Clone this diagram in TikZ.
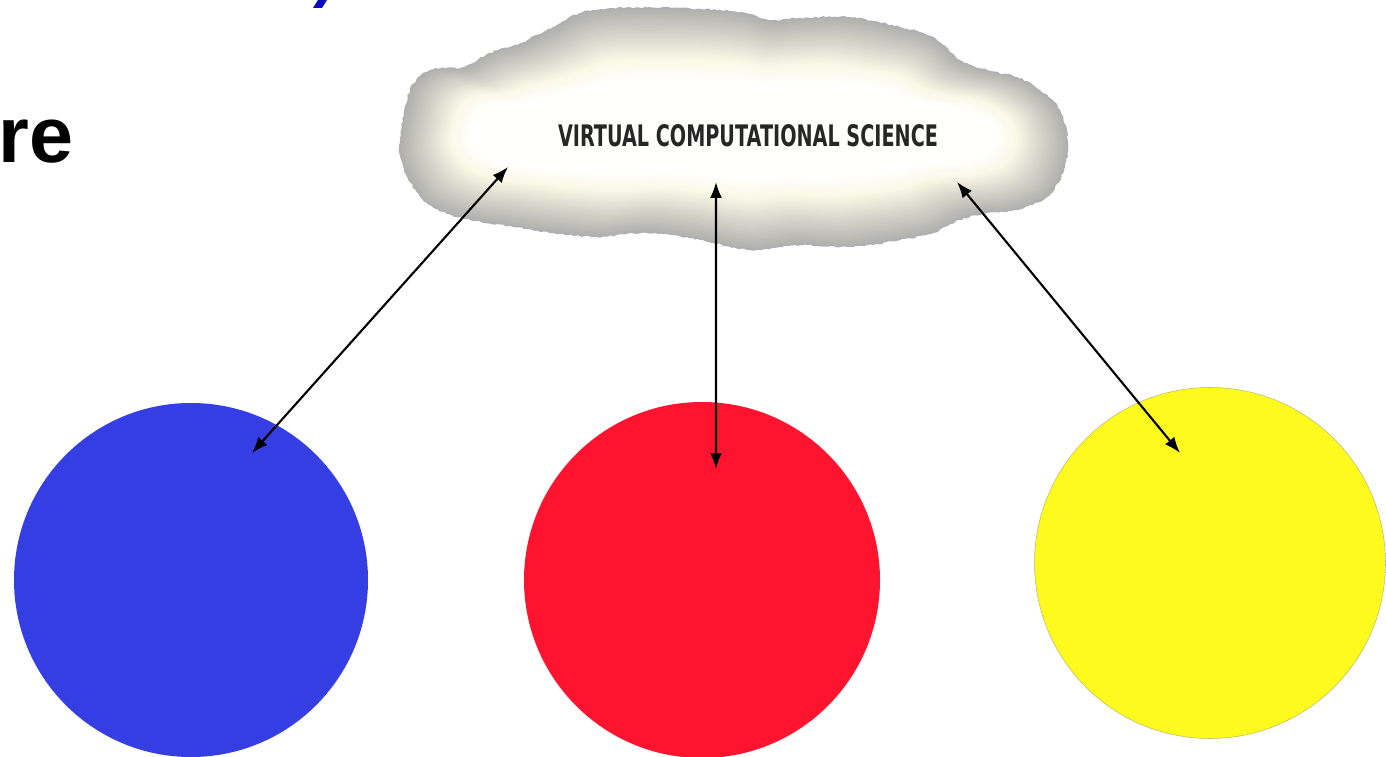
\documentclass[tikz,border=0pt]{standalone}
\usepackage{fontspec}
\setmainfont{Liberation Sans}
\newfontfamily\vcsfont{DejaVu Sans}
\usepackage{graphicx}
\usepackage{tikz}
\usetikzlibrary{arrows.meta, calc, decorations.pathmorphing}
\definecolor{discblue}{RGB}{52,62,226}
\definecolor{discred}{RGB}{255,20,48}
\definecolor{discyellow}{RGB}{255,250,30}
\definecolor{cloudgray}{RGB}{176,176,174}
\definecolor{cloudcream}{RGB}{250,248,230}
\definecolor{titleblue}{RGB}{10,10,190}
% outline of the cloud, centred on the origin
\newcommand{\cloudshape}{plot[smooth cycle, tension=0.55] coordinates {
  (-6.66,-0.22) (-6.46,0.78) (-6.06,1.18) (-5.40,1.24) (-4.86,1.52) (-4.26,1.72)
  (-3.60,2.04) (-3.06,2.32) (-2.40,2.42) (-1.06,2.42) (0.14,2.34) (0.74,2.18)
  (1.34,2.22) (2.34,2.24) (3.34,2.04) (4.00,1.84) (4.54,1.38) (5.08,1.18)
  (5.68,1.04) (6.14,0.78) (6.54,0.38) (6.70,-0.28) (6.60,-0.88) (6.28,-1.36)
  (5.68,-1.62) (5.08,-1.68) (4.54,-1.82) (4.00,-2.08) (3.34,-2.22) (2.34,-2.36)
  (1.34,-2.32) (0.34,-2.42) (-0.66,-2.22) (-1.72,-2.08) (-2.72,-2.16) (-3.60,-2.08)
  (-4.40,-1.96) (-5.52,-1.76) (-6.20,-1.42) (-6.60,-0.76)}}
\tikzset{
  disc/.style={circle, inner sep=0pt, minimum size=#1},
  link/.style={<->, line width=1.2pt},
}

\begin{document}
\begin{tikzpicture}[>={Latex[length=3.2mm, width=2.4mm]}]
\useasboundingbox (0,0) rectangle (27.72,15.12);
% cut-off title
\fill[titleblue] (6.26,14.96) -- (6.44,14.96) -- (6.54,15.12) -- (6.36,15.12) -- cycle;
\node[font=\fontsize{45}{54}\selectfont\bfseries, anchor=base east, inner sep=0pt] (heading) at (1.48,11.86) {re};
% cloud with soft glow
\coordinate (cloud) at (14.66,12.54);
\begin{scope}[shift={(14.66,12.54)}]
\fill[cloudgray, decorate, decoration={random steps, segment length=1.5pt, amplitude=0.5pt}] \cloudshape;
\foreach \k in {1,...,20}{
  \pgfmathsetmacro{\sx}{1-\k*0.05/6.7}
  \pgfmathsetmacro{\sy}{1-\k*0.05/2.4}
  \pgfmathtruncatemacro{\mix}{\k*5}
  \fill[cloudcream!\mix!cloudgray, xscale=\sx, yscale=\sy] \cloudshape;
}
\foreach \k in {21,...,28}{
  \pgfmathsetmacro{\sx}{1-\k*0.05/6.7}
  \pgfmathsetmacro{\sy}{1-\k*0.05/2.4}
  \pgfmathtruncatemacro{\mix}{(\k-20)*12}
  \fill[white!\mix!cloudcream, xscale=\sx, yscale=\sy] \cloudshape;
}
\end{scope}
\node[inner sep=0pt, text=black!85] (vcs) at ($(cloud)+(0.30,-0.14)$)
  {\resizebox{7.6cm}{0.44cm}{\vcsfont\bfseries VIRTUAL COMPUTATIONAL SCIENCE}};
% discs
\node[disc=7.08cm, fill=discblue] (blue) at (3.82,3.52) {};
\node[disc=7.12cm, fill=discred] (red) at (14.04,3.52) {};
\node[disc=7.02cm, fill=discyellow, draw=gray!60!yellow, line width=0.3pt] (yellow) at (24.2,3.86) {};
% arrow ends
\coordinate (cloudL) at ($(cloud)+(-4.50,-0.76)$);
\coordinate (cloudM) at ($(cloud)+(-0.34,-1.06)$);
\coordinate (cloudR) at ($(cloud)+(4.48,-1.06)$);
\coordinate (blueEnd) at ($(blue)+(1.22,2.54)$);
\coordinate (redEnd) at ($(red)+(0.28,2.22)$);
\coordinate (yellowEnd) at ($(yellow)+(-0.60,2.20)$);
\draw[link] (blueEnd) -- (cloudL);
\draw[link] (redEnd) -- (cloudM);
\draw[link] (yellowEnd) -- (cloudR);
\end{tikzpicture}
\end{document}
